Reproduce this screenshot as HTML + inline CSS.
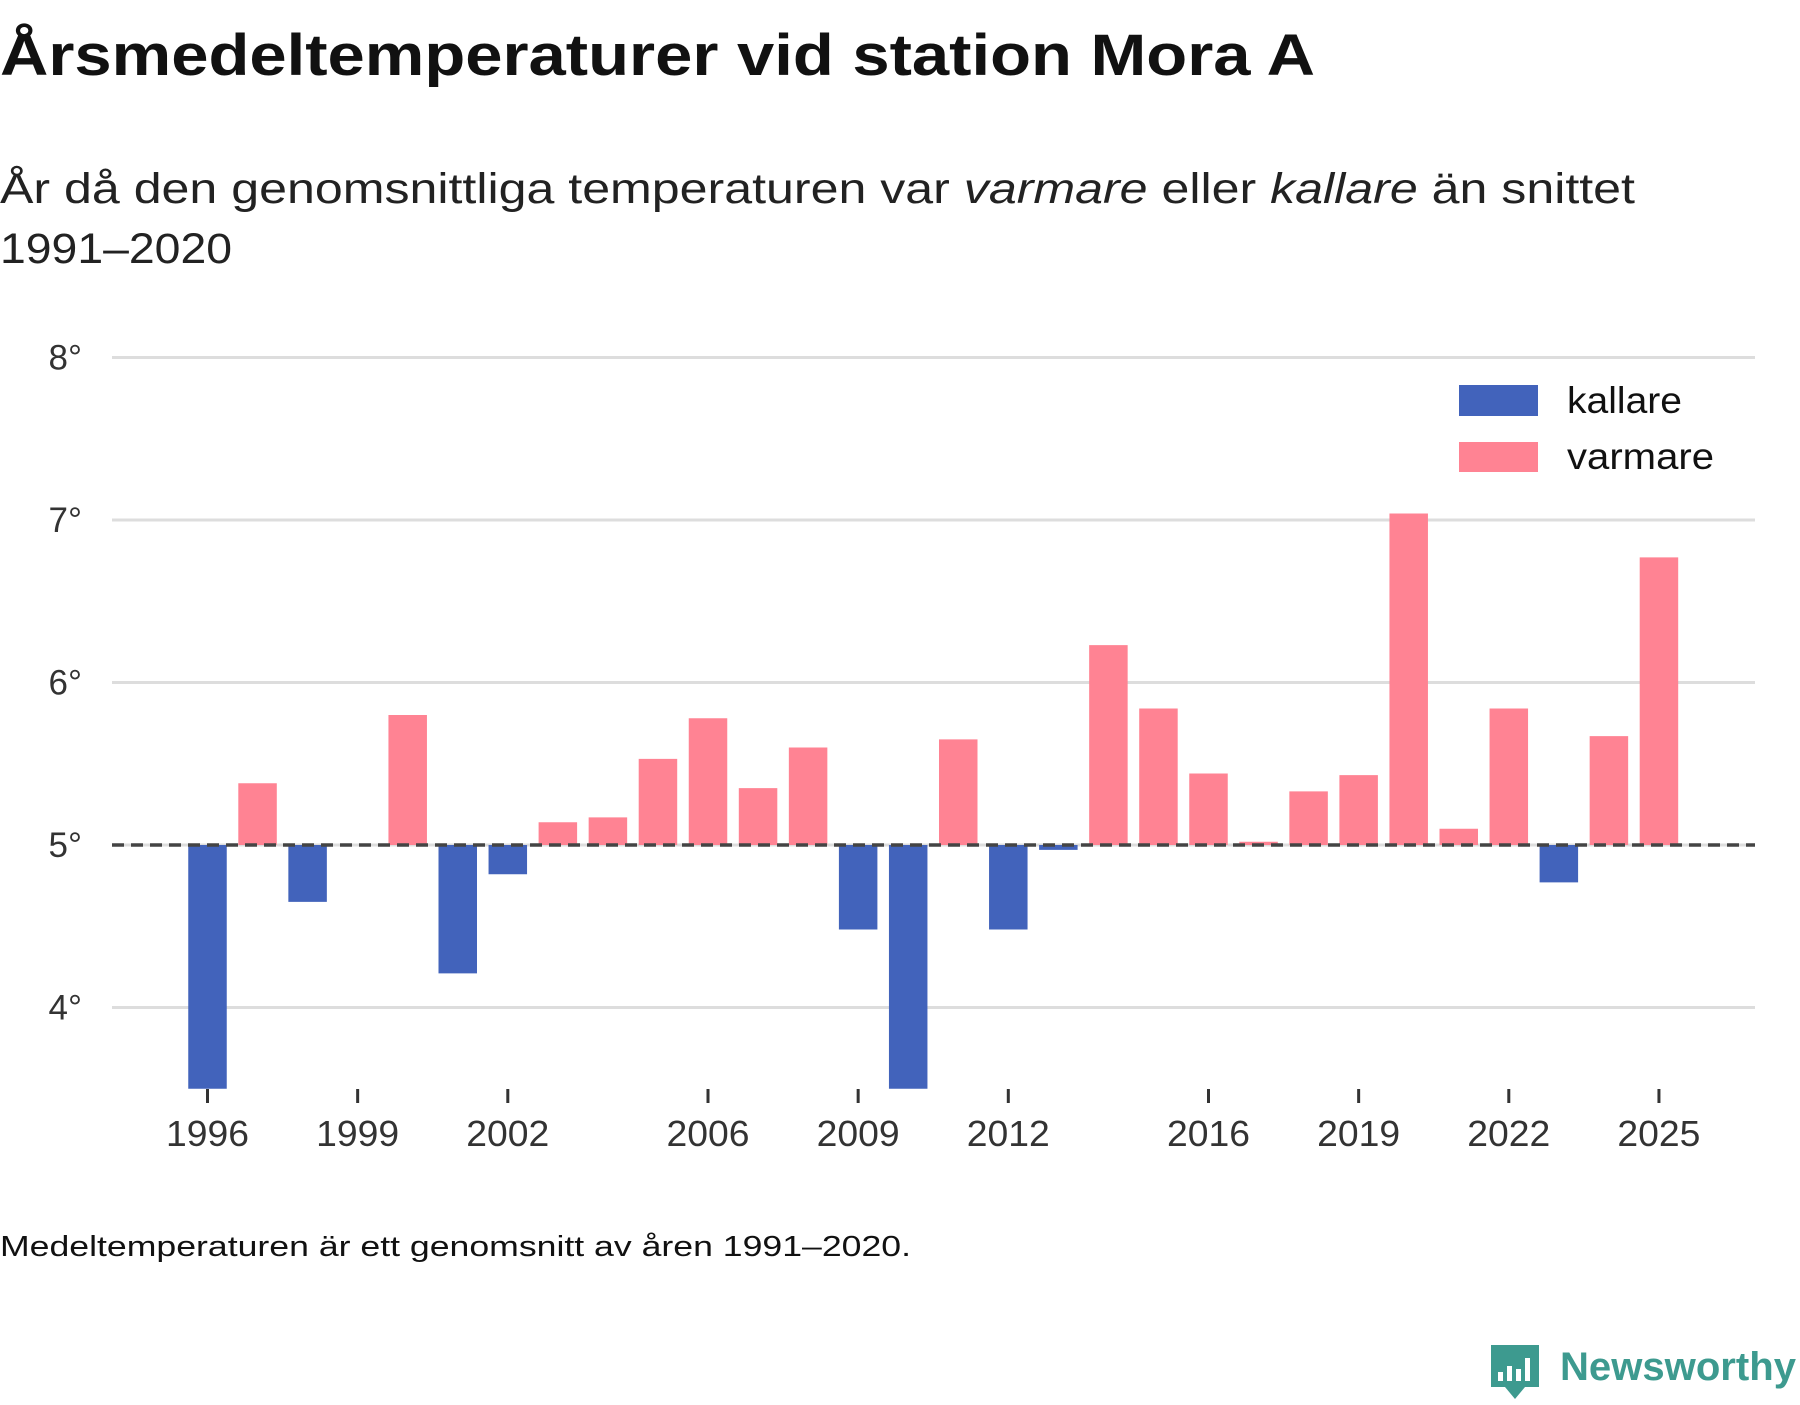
<!DOCTYPE html>
<html><head><meta charset="utf-8"><style>
body{margin:0;background:#fff;width:1800px;height:1400px;overflow:hidden;font-family:"Liberation Sans",sans-serif}
</style></head><body>
<svg width="1800" height="1400" xmlns="http://www.w3.org/2000/svg" font-family="Liberation Sans, sans-serif">
<text x="0" y="75" font-size="58" font-weight="bold" fill="#111" textLength="1315" lengthAdjust="spacingAndGlyphs">Årsmedeltemperaturer vid station Mora A</text>
<text x="0" y="203" font-size="43" fill="#222" textLength="1635" lengthAdjust="spacingAndGlyphs">År då den genomsnittliga temperaturen var <tspan font-style="italic">varmare</tspan> eller <tspan font-style="italic">kallare</tspan> än snittet</text>
<text x="0" y="263" font-size="43" fill="#222" textLength="232" lengthAdjust="spacingAndGlyphs">1991–2020</text>
<g id="grid"></g><g id="bars"></g><g id="xaxis"></g>
<line x1="112" x2="1755" y1="845" y2="845" stroke="#444" stroke-width="3.5" stroke-dasharray="12,7"/>
<g>
<rect x="1459" y="385" width="79" height="31" fill="#4263BB"/>
<text x="1567" y="413" font-size="37" fill="#111" textLength="115" lengthAdjust="spacingAndGlyphs">kallare</text>
<rect x="1459" y="442" width="79" height="30" fill="#FF8393"/>
<text x="1567" y="469" font-size="37" fill="#111" textLength="147" lengthAdjust="spacingAndGlyphs">varmare</text>
</g>
<text x="0" y="1256" font-size="29" fill="#111" textLength="911" lengthAdjust="spacingAndGlyphs">Medeltemperaturen är ett genomsnitt av åren 1991–2020.</text>
<g>
<path d="M1491 1345 h48 v42 h-14 l-10 12 l-10 -12 h-14 z" fill="#3D9A8F"/>
<rect x="1498" y="1372" width="5" height="9" fill="#fff"/><rect x="1507" y="1366" width="5" height="15" fill="#fff"/><rect x="1516" y="1369" width="5" height="12" fill="#fff"/><rect x="1525" y="1358" width="5" height="23" fill="#fff"/>
<text x="1560" y="1380" font-size="40" font-weight="bold" fill="#3D9A8F" textLength="236" lengthAdjust="spacingAndGlyphs">Newsworthy</text>
</g>
</svg>
<script>
const years=[1996,1997,1998,1999,2000,2001,2002,2003,2004,2005,2006,2007,2008,2009,2010,2011,2012,2013,2014,2015,2016,2017,2018,2019,2020,2021,2022,2023,2024,2025];
const temps=[3.2,5.38,4.65,5.0,5.80,4.21,4.82,5.14,5.17,5.53,5.78,5.35,5.60,4.48,3.3,5.65,4.48,4.97,6.23,5.84,5.44,5.02,5.33,5.43,7.04,5.10,5.84,4.77,5.67,6.77];
const yTicks=[4,5,6,7,8];
const xTickYears=[1996,1999,2002,2006,2009,2012,2016,2019,2022,2025];
const avg=5;
const NS="http://www.w3.org/2000/svg";
const yMin=3.5;
function y(v){return 845-(Math.max(v,yMin)-5)*162.5;}
function x(yr){return 207.5+(yr-1996)*50.05;}
function mk(t,a,p){const e=document.createElementNS(NS,t);for(const k in a)e.setAttribute(k,a[k]);p.appendChild(e);return e;}
const grid=document.getElementById('grid'),bars=document.getElementById('bars'),xa=document.getElementById('xaxis');
yTicks.forEach(t=>{
 const l=mk('line',{x1:112,x2:1755,y1:y(t),y2:y(t),stroke:'#ddd','stroke-width':3},grid);
 
 
 const tx=mk('text',{x:82,y:y(t)+12,'font-size':35,fill:'#333','text-anchor':'end'},grid);
 tx.textContent=t+'°';
 
 
});
years.forEach((yr,i)=>{
 const v=temps[i];const y0=y(avg),y1=y(v);
 const r=mk('rect',{x:x(yr)-19.25,width:38.5,y:Math.min(y0,y1),height:Math.abs(y1-y0),fill:v>=avg?'#FF8393':'#4263BB'},bars);
 
 
});
xTickYears.forEach(yr=>{
 const l=mk('line',{x1:x(yr),x2:x(yr),y1:1089,y2:1103,stroke:'#333','stroke-width':3},xa);
 
 
 const t=mk('text',{x:x(yr),y:1146,'font-size':36,fill:'#333','text-anchor':'middle',textLength:83,lengthAdjust:'spacingAndGlyphs'},xa);
 t.textContent=yr;
 
 
});
</script>
</body></html>
